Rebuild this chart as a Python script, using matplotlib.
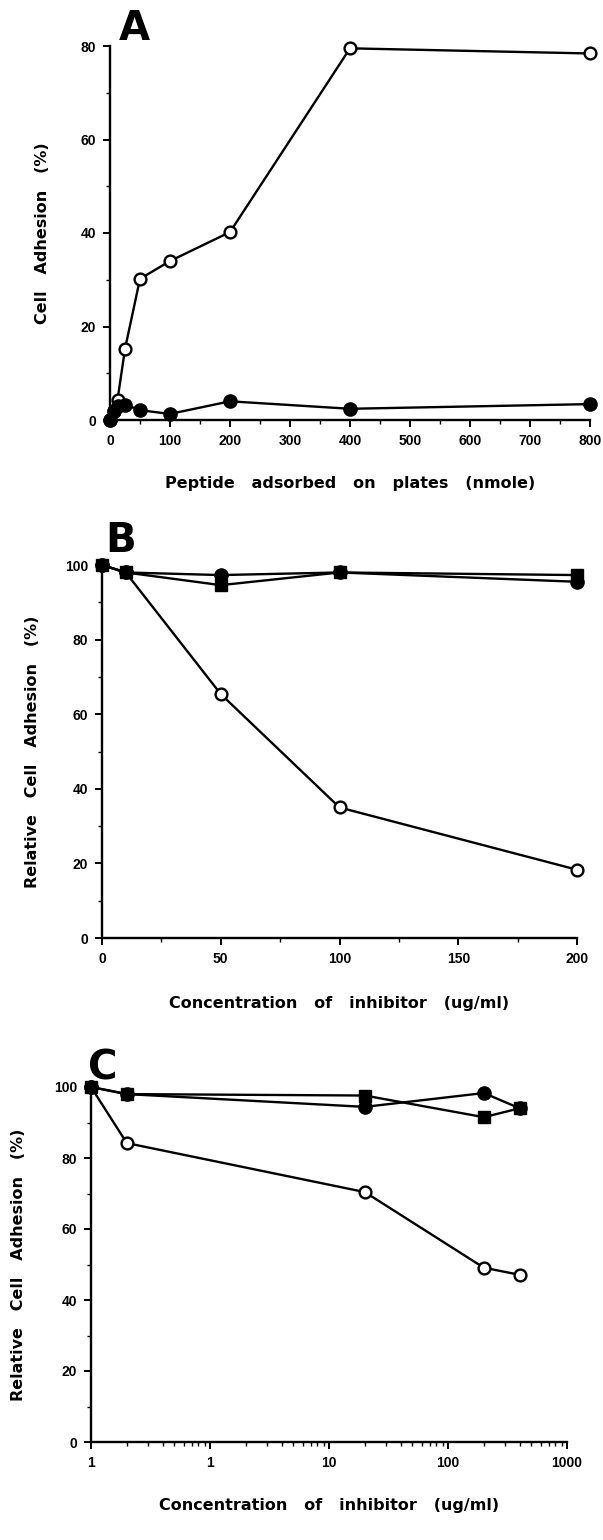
import matplotlib
matplotlib.use("Agg")
import matplotlib.pyplot as plt
from matplotlib.ticker import MultipleLocator, FixedLocator, NullFormatter, LogLocator

plt.rcParams['font.family'] = ['Liberation Sans', 'DejaVu Sans']

# panel A: peptide adsorbed on plates
a_x = [0, 6.25, 12.5, 25, 50, 100, 200, 400, 800]
a_open = [0, 2, 4.3, 15.2, 30.2, 34, 40.2, 79.5, 78.4]
a_filled = [0, 2, 3, 3.3, 2.1, 1.3, 4, 2.4, 3.4]

# panel B: inhibitor, linear
b_x = [0, 10, 50, 100, 200]
b_open = [100, 98, 65.4, 35, 18.3]
b_circle = [100, 98, 97.3, 98, 95.5]
b_square = [100, 98, 94.6, 98, 97.3]

# panel C: inhibitor, log scale
c_x = [0.1, 0.2, 20, 200, 400]
c_open = [100, 84.2, 70.4, 49.1, 47.1]
c_circle = [100, 98, 94.4, 98.3, 94]
c_square = [100, 98, 97.6, 91.5, 94]
c_ticks = [0.1, 1, 10, 100, 1000]
c_ticklabels = ['1', '1', '10', '100', '1000']

W, H = 603, 1540
fig = plt.figure(figsize=(W / 100, H / 100), dpi=100)


def make_axes(left, right, top, bottom):
    return fig.add_axes([left / W, 1 - bottom / H, (right - left) / W, (bottom - top) / H])


def style(ax):
    for s in ['top', 'right']:
        ax.spines[s].set_visible(False)
    for s in ['left', 'bottom']:
        ax.spines[s].set_linewidth(1.7)
    ax.tick_params(which='major', direction='out', length=5, width=1.4,
                   labelsize=10, pad=5)
    ax.tick_params(which='minor', direction='out', length=3, width=1.0)
    for t in ax.get_xticklabels() + ax.get_yticklabels():
        t.set_fontweight('bold')


line_kw = dict(color='black', lw=1.7, clip_on=False, zorder=3)
open_kw = dict(marker='o', ms=8.5, mfc='white', mec='black', mew=1.7, **line_kw)
circ_kw = dict(marker='o', ms=9.5, mfc='black', mec='black', **line_kw)
sq_kw = dict(marker='s', ms=9, mfc='black', mec='black', **line_kw)
lab_kw = dict(fontsize=11.5, fontweight='bold', family='DejaVu Sans')
letter_kw = dict(fontsize=29, fontweight='bold', family='DejaVu Sans', ha='center', va='center')

# ---- A
ax = make_axes(110, 590, 46, 420)
ax.plot(a_x, a_open, **open_kw)
ax.plot(a_x, a_filled, **circ_kw)
ax.set_xlim(0, 800)
ax.set_ylim(0, 80)
ax.xaxis.set_major_locator(MultipleLocator(100))
ax.xaxis.set_minor_locator(MultipleLocator(50))
ax.yaxis.set_major_locator(MultipleLocator(20))
ax.yaxis.set_minor_locator(MultipleLocator(10))
style(ax)
ax.set_xlabel('Peptide   adsorbed   on   plates   (nmole)', labelpad=20, **lab_kw)
ax.set_ylabel('Cell   Adhesion   (%)', labelpad=22, **lab_kw)
fig.text(134 / W, 1 - 29 / H, 'A', **letter_kw)

# ---- B
ax = make_axes(102, 577, 565, 938)
ax.plot(b_x, b_open, **open_kw)
ax.plot(b_x, b_circle, **circ_kw)
ax.plot(b_x, b_square, **sq_kw)
ax.set_xlim(0, 200)
ax.set_ylim(0, 100)
ax.xaxis.set_major_locator(MultipleLocator(50))
ax.xaxis.set_minor_locator(MultipleLocator(25))
ax.yaxis.set_major_locator(MultipleLocator(20))
ax.yaxis.set_minor_locator(MultipleLocator(10))
style(ax)
ax.set_xlabel('Concentration   of   inhibitor   (ug/ml)', labelpad=22, **lab_kw)
ax.set_ylabel('Relative   Cell   Adhesion   (%)', labelpad=18, **lab_kw)
fig.text(121 / W, 1 - 541 / H, 'B', **letter_kw)

# ---- C
ax = make_axes(91, 567, 1087, 1442)
ax.set_xscale('log')
ax.plot(c_x, c_open, **open_kw)
ax.plot(c_x, c_circle, **circ_kw)
ax.plot(c_x, c_square, **sq_kw)
ax.set_xlim(0.1, 1000)
ax.set_ylim(0, 100)
ax.xaxis.set_major_locator(FixedLocator(c_ticks))
ax.set_xticklabels(c_ticklabels)
ax.xaxis.set_minor_locator(LogLocator(base=10, subs=range(2, 10)))
ax.xaxis.set_minor_formatter(NullFormatter())
ax.yaxis.set_major_locator(MultipleLocator(20))
ax.yaxis.set_minor_locator(MultipleLocator(10))
style(ax)
ax.set_xlabel('Concentration   of   inhibitor   (ug/ml)', labelpad=20, **lab_kw)
ax.set_ylabel('Relative   Cell   Adhesion   (%)', labelpad=20, **lab_kw)
fig.text(103 / W, 1 - 1068 / H, 'C', **letter_kw)

fig.savefig('out.png', dpi=100)
